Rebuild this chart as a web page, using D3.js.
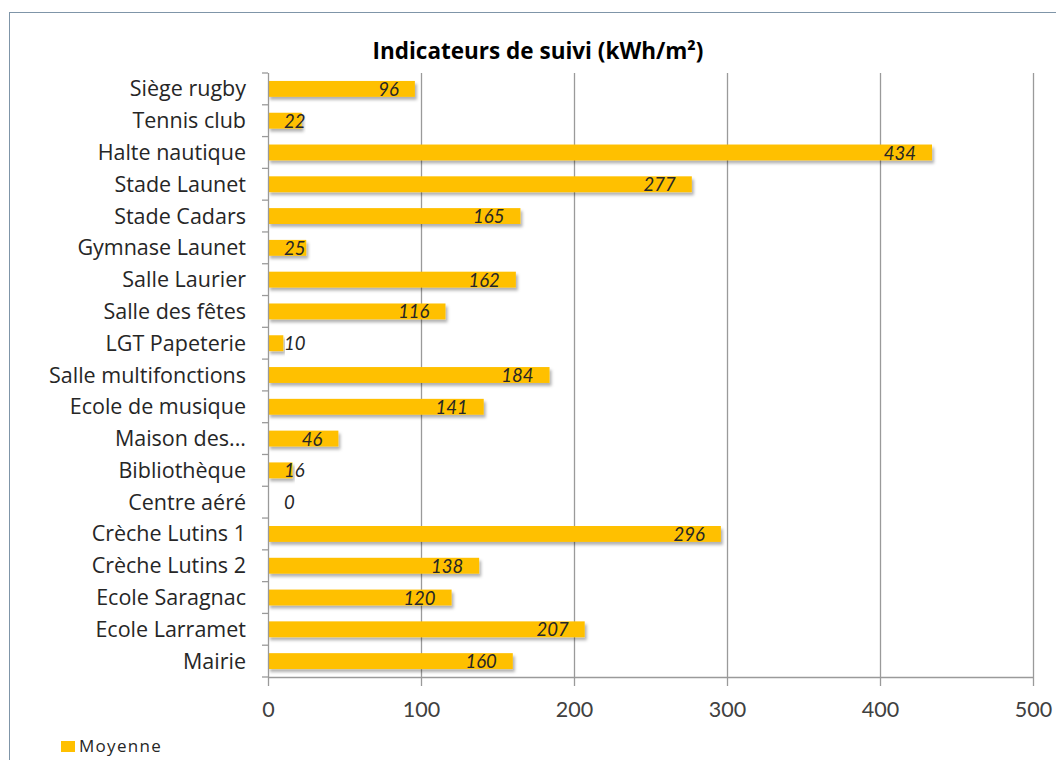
<!DOCTYPE html>
<html><head><meta charset="utf-8">
<script src="https://cdn.jsdelivr.net/npm/d3@7"></script>
<style>body{margin:0;background:#fff;} svg{display:block;}</style>
</head><body>
<svg id="c" width="1056" height="760"></svg>
<script>
const categories = ["Siège rugby","Tennis club","Halte nautique","Stade Launet","Stade Cadars","Gymnase Launet","Salle Laurier","Salle des fêtes","LGT Papeterie","Salle multifonctions","Ecole de musique","Maison des...","Bibliothèque","Centre aéré","Crèche Lutins 1","Crèche Lutins 2","Ecole Saragnac","Ecole Larramet","Mairie"];
const values = [96,22,434,277,165,25,162,116,10,184,141,46,16,0,296,138,120,207,160];
const xTicks = [0,100,200,300,400,500];
const seriesName = "Moyenne";
const title = "Indicateurs de suivi (kWh/m²)";

const svg = d3.select("#c");
const font = "'Open Sans', sans-serif";
const font2 = "Lato, 'Open Sans', sans-serif";
const defs = svg.append("defs");
const f = defs.append("filter").attr("id","sh").attr("x","-5%").attr("y","-30%").attr("width","115%").attr("height","180%");
f.append("feDropShadow").attr("dx",2).attr("dy",3).attr("stdDeviation",1.5).attr("flood-color","#000").attr("flood-opacity",0.3);

svg.append("rect").attr("x",9.5).attr("y",12.5).attr("width",1070).attr("height",780)
  .attr("fill","#fff").attr("stroke","#7f95a8").attr("stroke-width",1);

const L = 268, R = 1033, T = 73, B = 677;
const x = d3.scaleLinear().domain([0,500]).range([L,R]);
const y = d3.scaleBand().domain(categories).range([T,B]).paddingInner(0.5).paddingOuter(0.25);

svg.append("text").attr("x",538).attr("y",59).attr("text-anchor","middle")
  .attr("font-family",font).attr("font-weight","bold").attr("font-size",22.5).attr("fill","#000").text(title);

// gridlines
svg.append("g").selectAll("line").data(xTicks.filter(d=>d>0)).join("line")
  .attr("x1",d=>x(d)+0.5).attr("x2",d=>x(d)+0.5).attr("y1",T).attr("y2",B)
  .attr("stroke","#9a9a9a").attr("stroke-width",1.3);

// bars
svg.append("g").selectAll("rect").data(values).join("rect")
  .attr("x",x(0)).attr("y",(d,i)=>y(categories[i]))
  .attr("width",d=>x(d)-x(0)).attr("height",y.bandwidth())
  .attr("fill","#FFC000").attr("filter","url(#sh)");

// x axis
const xa = svg.append("g").attr("transform",`translate(0,${B})`)
  .call(d3.axisBottom(x).tickValues(xTicks).tickSize(9).tickPadding(16));
xa.select(".domain").attr("stroke","#9a9a9a").attr("stroke-width",1.3).attr("d",`M${L},0.5H${R}`);
xa.selectAll(".tick line").attr("stroke","#9a9a9a").attr("stroke-width",1.3);
xa.selectAll("text").attr("font-family",font2).attr("font-size",21.5).attr("fill","#404040");

// y axis
const ya = svg.append("g").attr("transform",`translate(${L},0)`);
ya.append("line").attr("x1",0.5).attr("x2",0.5).attr("y1",T).attr("y2",B).attr("stroke","#9a9a9a").attr("stroke-width",1.3);
ya.selectAll("line.tk").data(d3.range(categories.length+1)).join("line").attr("class","tk")
  .attr("x1",-6).attr("x2",0).attr("y1",i=>T+i*(B-T)/categories.length).attr("y2",i=>T+i*(B-T)/categories.length)
  .attr("stroke","#9a9a9a").attr("stroke-width",1.3);
ya.selectAll("text").data(categories).join("text")
  .attr("x",-22).attr("y",d=>y(d)+y.bandwidth()/2).attr("dy","0.35em").attr("text-anchor","end")
  .attr("font-family",font).attr("font-size",21.5).attr("fill","#262626").text(d=>d);

// data labels
svg.append("g").selectAll("text").data(values).join("text")
  .attr("font-family",font2).attr("font-style","italic").attr("font-size",18.5).attr("fill","#262626")
  .attr("y",(d,i)=>y(categories[i])+y.bandwidth()/2).attr("dy","0.38em")
  .text(d=>d)
  .each(function(d){
    const w = this.getComputedTextLength();
    let xe = x(d)-16;
    if (xe - w < L+16) { d3.select(this).attr("x",L+16).attr("text-anchor","start"); }
    else d3.select(this).attr("x",xe).attr("text-anchor","end");
  });

// legend
svg.append("rect").attr("x",61).attr("y",741).attr("width",14).attr("height",11).attr("fill","#FFC000");
svg.append("text").attr("x",79).attr("y",746).attr("dy","0.35em").attr("font-family",font).attr("font-size",17)
  .attr("fill","#262626").attr("letter-spacing",1.3).text(seriesName);
</script>
</body></html>
